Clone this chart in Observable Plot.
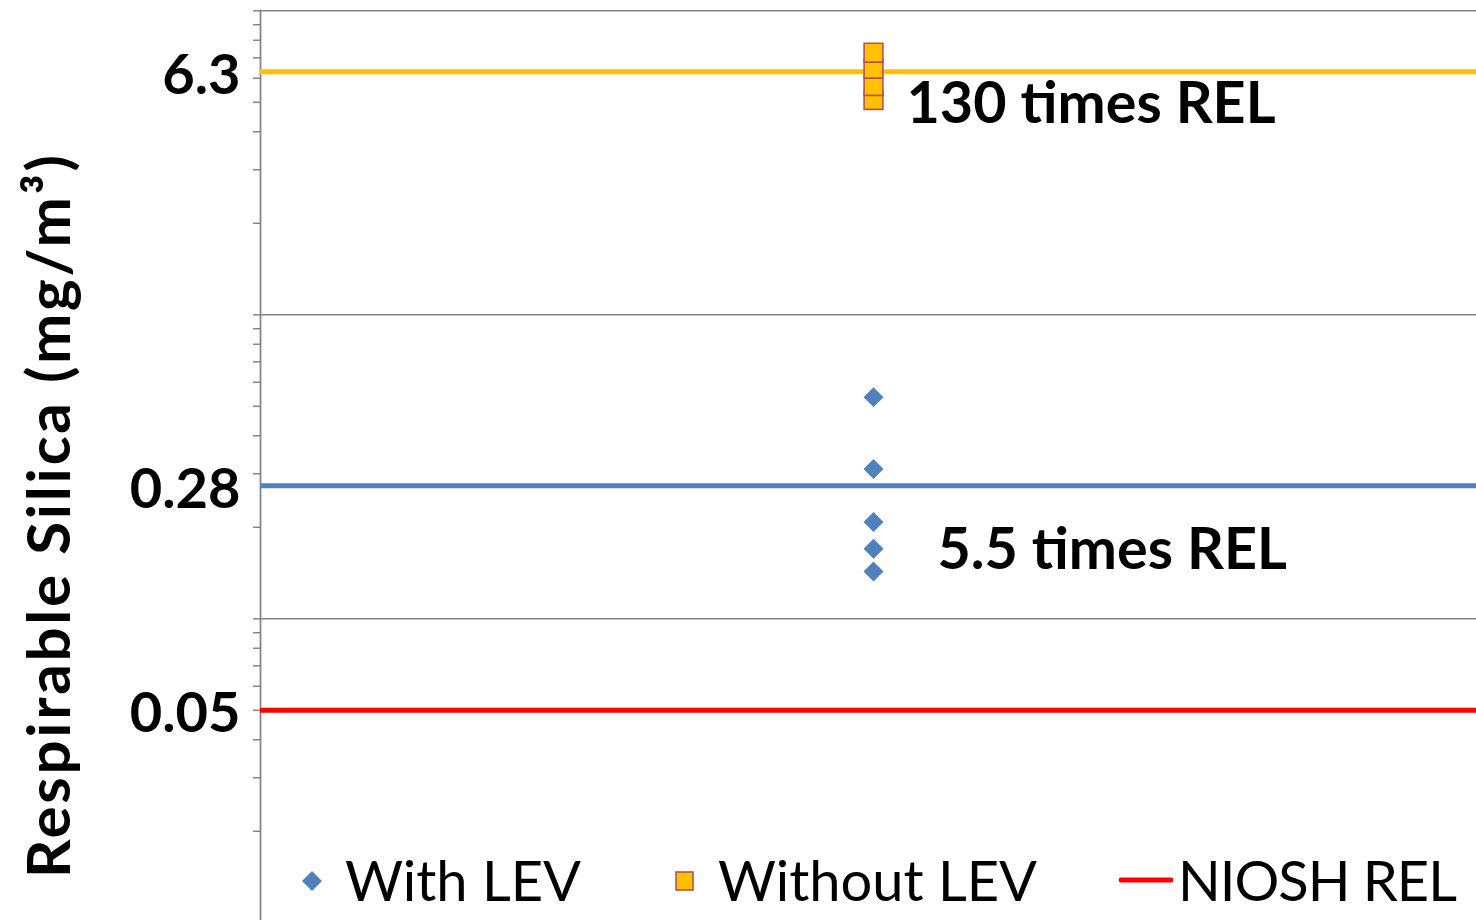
<!DOCTYPE html>
<html>
<head>
<meta charset="utf-8">
<script src="https://cdn.jsdelivr.net/npm/d3@7"></script>
<script src="https://cdn.jsdelivr.net/npm/@observablehq/plot@0.6"></script>
<style>
  html, body { margin: 0; padding: 0; background: #fff; }
  #wrap { position: relative; width: 1476px; height: 920px; overflow: hidden; font-family: Lato, "Open Sans", sans-serif; }
  #wrap svg { position: absolute; left: 0; top: 0; }
  .leg { position: absolute; font-family: Lato, sans-serif; font-size: 56px; color: #000; line-height: 1; white-space: nowrap; }
  .sym { position: absolute; }
</style>
</head>
<body>
<div id="wrap"></div>
<script>
// ---- data ----
const withLEV = [0.536, 0.311, 0.208, 0.170, 0.143];        // mg/m3, diamonds
const withoutLEV = [5.09, 5.66, 6.45, 7.28];                // mg/m3, squares
const refNames = ["Without LEV mean", "With LEV mean", "NIOSH REL"];
const refValues = [6.3, 0.274, 0.05];
const refColors = ["#FFC000", "#4F81BD", "#FF0000"];
const tickLabels = ["6.3", "0.28", "0.05"];
const annotations = ["130 times REL", "5.5 times REL"];
const gridDecades = [0.1, 1, 10];
const minorTicks = [];
for (const p of [0.01, 0.1, 1]) for (let k = 1; k <= 9; k++) minorTicks.push(+(k * p).toPrecision(3));
minorTicks.push(10);
const legendItems = ["With LEV", "Without LEV", "NIOSH REL"];
const yTitle = "Respirable Silica (mg/m³)";

const refs = refNames.map((n, i) => ({name: n, value: refValues[i], color: refColors[i], label: tickLabels[i]}));
const ptsWith = withLEV.map(v => ({x: 1, v}));
const ptsWithout = withoutLEV.map(v => ({x: 1, v}));
const ann = [
  {x: 1, v: refValues[0], text: annotations[0]},
  {x: 1, v: refValues[1], text: annotations[1]}
];

const chart = Plot.plot({
  width: 1476,
  height: 920,
  marginLeft: 260,
  marginRight: 0,
  marginTop: 10,
  marginBottom: 0,
  style: {fontFamily: "Lato, sans-serif", background: "transparent"},
  x: {domain: [0, 2], range: [260, 1486], axis: null},
  y: {type: "log", domain: [0.01, 10], range: [922.3, 10.3], axis: null},
  color: {type: "identity"},
  marks: [
    Plot.gridY(gridDecades, {stroke: "#868686", strokeOpacity: 1, strokeWidth: 1.5}),
    Plot.axisY(minorTicks, {tickSize: 7, tickFormat: () => "", stroke: "#868686", strokeWidth: 1.5, label: null}),
    Plot.frame({anchor: "left", stroke: "#868686", strokeWidth: 1.8}),
    Plot.text(refs, {frameAnchor: "left", y: "value", text: "label", textAnchor: "end", dx: -20, dy: 4, fontSize: 56, fontWeight: "bold", fill: "#000"}),
    Plot.ruleY(refs, {y: "value", stroke: "color", strokeWidth: 5}),
    Plot.dot(ptsWith, {x: "x", y: "v", symbol: "diamond2", r: 9, fill: "#4F81BD", stroke: "none"}),
    Plot.dot(ptsWithout, {x: "x", y: "v", symbol: "square", r: 10.6, fill: "#FFC000", stroke: "#C0504D", strokeWidth: 1.6}),
    Plot.text(ann.slice(0, 1), {x: "x", y: "v", text: "text", textAnchor: "start", dx: 33, dy: 33, fontSize: 57.5, fontWeight: "bold", fill: "#000"}),
    Plot.text(ann.slice(1), {x: "x", y: "v", text: "text", textAnchor: "start", dx: 64, dy: 65, fontSize: 57.5, fontWeight: "bold", fill: "#000"}),
    Plot.text([yTitle], {frameAnchor: "left", rotate: -90, textAnchor: "middle", dx: -210, dy: 51, fontSize: 60, fontWeight: "bold", fill: "#000"})
  ]
});
const wrap = document.getElementById("wrap");
wrap.appendChild(chart);
// stretch the axis title to the reference's length
d3.select(chart).selectAll("text").filter(function() { return this.textContent === yTitle; })
  .attr("textLength", 723).attr("lengthAdjust", "spacing");

// ---- legend overlay (inside plot area, bottom) ----
function addText(txt, left, top) {
  const s = document.createElement("div");
  s.className = "leg";
  s.textContent = txt;
  s.style.left = left + "px";
  s.style.top = top + "px";
  wrap.appendChild(s);
  return s;
}
function addSym(svgInner, left, top, w, h) {
  const d = document.createElement("div");
  d.className = "sym";
  d.style.left = left + "px"; d.style.top = top + "px";
  d.innerHTML = `<svg width="${w}" height="${h}" viewBox="0 0 ${w} ${h}">${svgInner}</svg>`;
  wrap.appendChild(d);
}
addSym(`<path d="M10,0 L20,10 L10,20 L0,10 Z" fill="#4F81BD"/>`, 302, 871, 20, 20);
addText(legendItems[0], 345, 852);
addSym(`<rect x="1" y="1" width="17" height="18" fill="#FFC000" stroke="#C0504D" stroke-width="1.6"/>`, 675, 871, 19, 20);
addText(legendItems[1], 718, 852);
addSym(`<line x1="2" y1="5" x2="52" y2="5" stroke="#FF0000" stroke-width="5" stroke-linecap="round"/>`, 1119, 875, 54, 10);
addText(legendItems[2], 1178, 852).style.letterSpacing = "-1px";
</script>
</body>
</html>
